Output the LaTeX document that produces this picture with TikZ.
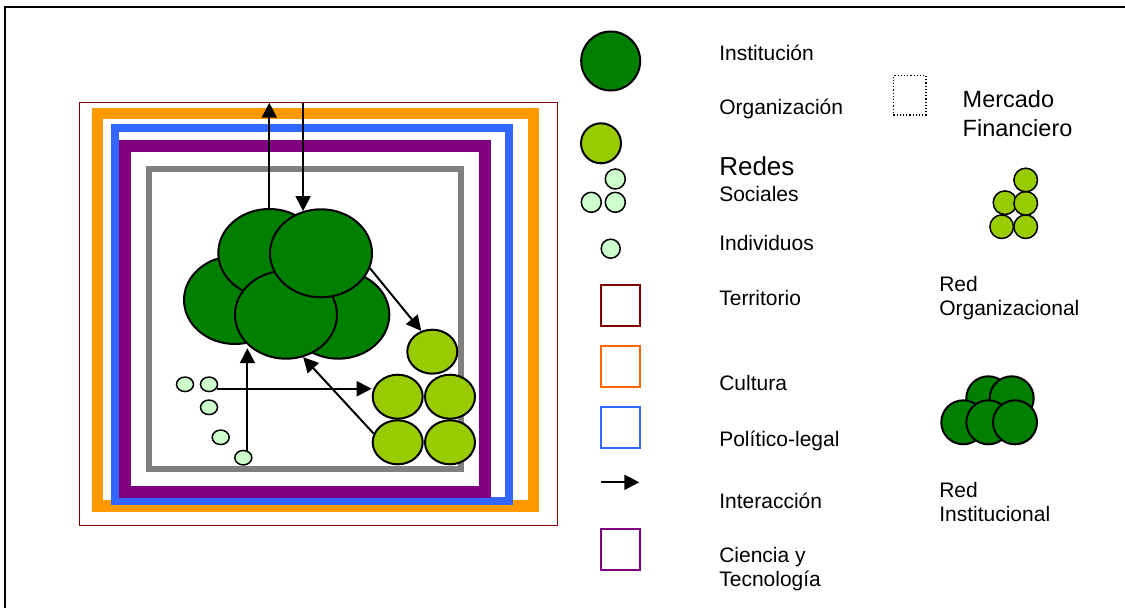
\documentclass[tikz,border=0pt]{standalone}
\usepackage{fontspec}
\setmainfont{Liberation Sans}
\usetikzlibrary{shapes.geometric,arrows.meta}
\definecolor{inst}{HTML}{007F00}
\definecolor{org}{HTML}{99CC00}
\definecolor{ind}{HTML}{CCFFCC}
\definecolor{terrc}{HTML}{800000}
\definecolor{cultc}{HTML}{FF9900}
\definecolor{cultl}{HTML}{FF6600}
\definecolor{polc}{HTML}{3366FF}
\definecolor{cienc}{HTML}{800080}
\definecolor{grisc}{HTML}{808080}
\begin{document}
\begin{tikzpicture}[x=1pt, y=-1pt, line width=2pt,
inst node/.style={ellipse,draw,fill=inst,minimum width=102pt,minimum height=88pt,inner sep=0pt},
org node/.style={ellipse,draw,fill=org,minimum width=50pt,minimum height=44pt,inner sep=0pt},
ind node/.style={ellipse,draw,fill=ind,line width=1.5pt,minimum width=17pt,minimum height=14.5pt,inner sep=0pt},
frame node/.style={rectangle,draw,inner sep=0pt,outer sep=0pt},
key node/.style={rectangle,draw,line width=1.8pt,minimum width=39pt,minimum height=41pt,inner sep=0pt},
arr/.style={-{Triangle[length=15pt,width=15pt]},line width=2pt},
label node/.style={anchor=base west,inner sep=0pt,align=left,font=\fontsize{21}{24}\selectfont}]%fill=black,
\useasboundingbox (0,0) rectangle (1125,608);
\draw[line width=2pt] (5,608) -- (5,7) -- (1125,7);
\begin{scope}
\node[frame node,draw=terrc,line width=1.5pt,minimum width=478pt,minimum height=423pt] (terr) at (318.7,314.2) {};
\node[frame node,draw=cultc,line width=11.7pt,minimum width=436pt,minimum height=392.7pt] (cult) at (315.5,309.7) {};
\node[frame node,draw=polc,line width=8pt,minimum width=394pt,minimum height=373pt] (pol) at (312,314.8) {};
\node[frame node,draw=cienc,line width=12pt,minimum width=360pt,minimum height=345.7pt] (cien) at (305.3,318.8) {};
\node[frame node,draw=grisc,line width=6pt,minimum width=312pt,minimum height=299.7pt] (gris) at (305.3,319.2) {};
\end{scope}
\begin{scope}
\node[inst node] (e1) at (235,300) {};
\node[inst node] (e4) at (338.3,314.7) {};
\node[inst node] (e2) at (269.3,253) {};
\node[inst node] (e5) at (286,314.7) {};
\node[inst node] (e3) at (321,253.3) {};
\node[org node] (g1) at (432.3,351.7) {};
\node[org node] (g2) at (397.7,396.7) {};
\node[org node] (g3) at (450,396.7) {};
\node[org node] (g4) at (397.7,442.3) {};
\node[org node] (g5) at (450,442.3) {};
\node[ind node] (s1) at (185,384.3) {};
\node[ind node] (s2) at (209,384.3) {};
\node[ind node] (s3) at (209,407.3) {};
\node[ind node] (s4) at (220.7,437.3) {};
\node[ind node] (s5) at (243.3,457.7) {};
\end{scope}
\begin{scope}
\draw[arr] (e2.north) -- (e2.north |- terr.north);
\draw[arr] (e3.113 |- terr.north) -- (e3.113);
\draw[arr] (s5.60) -- (s5.60 |- e5.224);
\draw[arr] (s2.-30) -- (s2.-30 -| g2.west);
\draw[arr] (g4.160) -- (e5.-68);
\draw[arr] (e3.-17) -- (g1.118);
\end{scope}
% leyenda
\begin{scope}
\node[circle,draw,fill=inst,minimum size=59pt,inner sep=0pt] (kinst) at (610.7,61) {};
\node[circle,draw,fill=org,minimum size=40pt,inner sep=0pt] (korg) at (601,143.3) {};
\node[circle,draw,fill=ind,line width=1.5pt,minimum size=20pt,inner sep=0pt] (kred1) at (615.3,179) {};
\node[circle,draw,fill=ind,line width=1.5pt,minimum size=20pt,inner sep=0pt] (kred2) at (591.3,202.3) {};
\node[circle,draw,fill=ind,line width=1.5pt,minimum size=20pt,inner sep=0pt] (kred3) at (615.3,202.3) {};
\node[circle,draw,fill=ind,line width=1.5pt,minimum size=19pt,inner sep=0pt] (kind) at (610.7,248.7) {};
\node[key node,draw=terrc] (kterr) at (620.5,305.8) {};
\node[key node,draw=cultl] (kcult) at (620.5,366.5) {};
\node[key node,draw=polc] (kpol) at (620.5,427.5) {};
\node[key node,draw=cienc] (kcien) at (620.5,549.2) {};
\coordinate (ka) at (600.7,482.3);
\coordinate (kb) at (639.3,482.3);
\draw[arr] (ka) -- (kb);
\node[rectangle,draw,dotted,line width=1.2pt,minimum width=32.7pt,minimum height=39.3pt,inner sep=0pt] (kmer) at (909.7,95.3) {};
%\node[key node] (k) at (,) {};
\end{scope}
\begin{scope}
\node[circle,draw,fill=org,line width=1.5pt,minimum size=23.6pt,inner sep=0pt] (ro1) at (1001.7,226.7) {};
\node[circle,draw,fill=org,line width=1.5pt,minimum size=23.6pt,inner sep=0pt] (ro2) at (1025.7,226.7) {};
\node[circle,draw,fill=org,line width=1.5pt,minimum size=23.6pt,inner sep=0pt] (ro3) at (1005,202.7) {};
\node[circle,draw,fill=org,line width=1.5pt,minimum size=23.6pt,inner sep=0pt] (ro4) at (1025.7,203.3) {};
\node[circle,draw,fill=org,line width=1.5pt,minimum size=23.6pt,inner sep=0pt] (ro5) at (1025.7,180) {};
\node[circle,draw,fill=inst,minimum size=44pt,inner sep=0pt] (ri1) at (988.3,398.3) {};
\node[circle,draw,fill=inst,minimum size=44pt,inner sep=0pt] (ri2) at (1011.7,398.3) {};
\node[circle,draw,fill=inst,minimum size=44pt,inner sep=0pt] (ri3) at (963.3,422.3) {};
\node[circle,draw,fill=inst,minimum size=44pt,inner sep=0pt] (ri4) at (988.3,422.3) {};
\node[circle,draw,fill=inst,minimum size=44pt,inner sep=0pt] (ri5) at (1015,422.3) {};
\end{scope}
\begin{scope}[every node/.style={label node}]
\node (tinst) at (718.3,60) {Institución};
\node (torg) at (718.3,114.3) {Organización};
\node[font=\fontsize{26}{28}\selectfont] (tred) at (718.3,175) {Redes};
\node (tsoc) at (718.3,201) {Sociales};
\node (tind) at (718.3,250) {Individuos};
\node (tterr) at (718.3,305) {Territorio};
\node (tcult) at (718.3,390.7) {Cultura};
\node (tpol) at (718.3,446.7) {Político-legal};
\node (tint) at (718.3,508.3) {Interacción};
\node (tcien) at (718.3,586.7) {Ciencia y\\Tecnología};
\node[font=\fontsize{23.5}{28.7}\selectfont] (tmer) at (961.7,136) {Mercado\\Financiero};
\node (tro) at (938.3,315) {Red\\Organizacional};
\node (tri) at (938.3,521.7) {Red\\Institucional};
\end{scope}
\end{tikzpicture}
\end{document}
